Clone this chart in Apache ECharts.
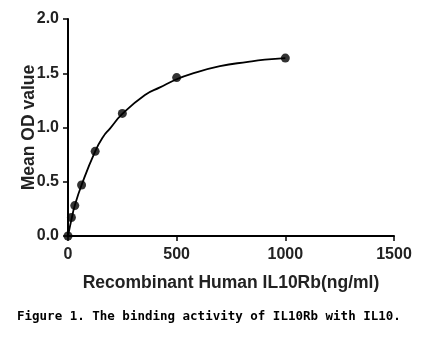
<!DOCTYPE html>
<html><head><meta charset="utf-8">
<script src="https://cdn.jsdelivr.net/npm/echarts@6/dist/echarts.min.js"></script>
<style>html,body{margin:0;padding:0;background:#fff}#c{width:432px;height:338px}</style>
</head><body><div id="c"></div>
<script>
var concentrations = [0, 15.63, 31.25, 62.5, 125, 250, 500, 1000];
var meanOD = [0, 0.17, 0.28, 0.47, 0.78, 1.13, 1.46, 1.64];
var curveX = [0, 15.63, 31.25, 62.5, 125, 162, 193, 250, 354, 423, 500, 561, 699, 828, 906, 1000];
var curveY = [0, 0.15, 0.28, 0.47, 0.78, 0.915, 0.99, 1.125, 1.30, 1.37, 1.445, 1.49, 1.565, 1.605, 1.625, 1.64];
var xTicks = [0, 500, 1000, 1500];
var yTicks = [0, 0.5, 1.0, 1.5, 2.0];
var xTitle = 'Recombinant Human IL10Rb(ng/ml)';
var yTitle = 'Mean OD value';
var caption = 'Figure 1. The binding activity of IL10Rb with IL10.';

var chart = echarts.init(document.getElementById('c'), null, {renderer: 'canvas'});
var axisFont = {fontFamily: 'Liberation Sans, Arial', fontWeight: 'bold', color: '#222'};
chart.setOption({
  animation: false,
  backgroundColor: '#fff',
  grid: {left: 68, right: 38, top: 19, bottom: 102},
  graphic: [{
    type: 'text', left: 17, top: 310,
    style: {text: caption, font: 'bold 12.5px "DejaVu Sans Mono"', fill: '#000'}
  }],
  xAxis: {
    type: 'value', min: xTicks[0], max: xTicks[xTicks.length - 1], interval: 500,
    name: xTitle, nameLocation: 'middle', nameGap: 38, nameMoveOverlap: false,
    nameTextStyle: Object.assign({fontSize: 17.5}, axisFont),
    axisLine: {show: true, onZero: false, lineStyle: {color: '#000', width: 2}},
    axisTick: {show: true, length: 5, lineStyle: {color: '#000', width: 1.5}},
    axisLabel: Object.assign({fontSize: 16, margin: 11, formatter: function(v){return String(v);}}, axisFont),
    splitLine: {show: false}
  },
  yAxis: {
    type: 'value', min: yTicks[0], max: yTicks[yTicks.length - 1], interval: 0.5,
    name: yTitle, nameLocation: 'middle', nameGap: 30, nameMoveOverlap: false,
    nameTextStyle: Object.assign({fontSize: 17.5}, axisFont),
    axisLine: {show: true, lineStyle: {color: '#000', width: 2}},
    axisTick: {show: true, length: 5, lineStyle: {color: '#000', width: 1.5}},
    axisLabel: Object.assign({fontSize: 16, margin: 9, formatter: function(v){return v.toFixed(1);}}, axisFont),
    splitLine: {show: false}
  },
  series: [{
    type: 'line', data: curveX.map(function(x, i){return [x, curveY[i]];}),
    smooth: 0.5, showSymbol: false, lineStyle: {color: '#000', width: 1.8}, z: 2
  }, {
    type: 'scatter', data: concentrations.map(function(x, i){return [x, meanOD[i]];}),
    symbol: 'circle', symbolSize: 9, itemStyle: {color: '#000'}, z: 3
  }]
});
</script></body></html>
